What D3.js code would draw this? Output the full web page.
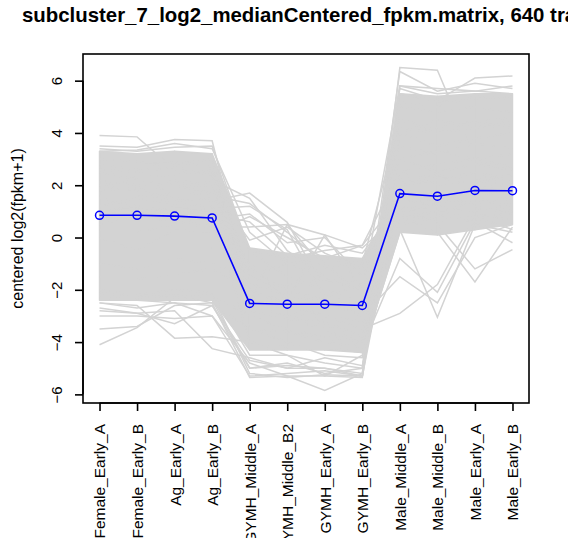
<!DOCTYPE html>
<html>
<head>
<meta charset="utf-8">
<script src="https://cdn.jsdelivr.net/npm/d3@7"></script>
<style>
  html, body { margin: 0; padding: 0; background: #fff; }
  svg { display: block; font-family: "Liberation Sans", Arial, sans-serif; }
</style>
</head>
<body>
<svg id="chart" width="568" height="538"></svg>
<script>
// Samples (x axis)
const samples = [
  "Female_Early_A", "Female_Early_B", "Ag_Early_A", "Ag_Early_B",
  "GYMH_Middle_A", "GYMH_Middle_B2", "GYMH_Early_A", "GYMH_Early_B",
  "Male_Middle_A", "Male_Middle_B", "Male_Early_A", "Male_Early_B"
];

// Cluster mean profile (blue)
const clusterMean = [0.85, 0.85, 0.82, 0.75, -2.52, -2.55, -2.55, -2.6, 1.68, 1.58, 1.8, 1.79];

// Dense band of transcript profiles (upper / lower edge per sample)
const bandUpper = [3.3, 3.2, 3.3, 3.2, -0.4, -0.6, -0.7, -0.8, 5.5, 5.4, 5.5, 5.5];
const bandLower = [-2.4, -2.4, -2.4, -2.4, -4.3, -4.3, -4.3, -4.4, 0.2, 0.1, 0.3, 0.5];

// Individual transcript profiles standing out of the band
const transcripts = [
  [3.9, 3.85, 2.6, 2.4, -1.2, -2.0, -2.4, -3.0, 3.0, 2.5, 2.8, 2.6],
  [3.5, 3.45, 3.75, 3.7, -2.0, -2.5, -3.0, -3.2, 4.0, 3.5, 3.8, 4.0],
  [3.4, 3.3, 3.45, 3.5, -0.5, -1.5, -2.0, -2.8, 2.0, 2.2, 2.5, 2.2],
  [3.3, 3.35, 3.6, 3.4, 0.2, -1.0, -1.6, -2.0, 1.5, 1.2, 1.8, 1.4],
  [2.0, 1.8, 1.5, 1.4, 1.7, 0.58, -2.0, -2.5, 1.0, 1.2, 1.0, 1.3],
  [2.5, 2.2, 2.0, 2.2, 1.5, -0.5, -1.5, -1.8, 0.8, 1.0, 1.2, 0.9],
  [1.5, 1.2, 1.0, 1.1, 1.2, 0.3, -2.3, -1.8, 2.5, 2.0, 2.2, 2.4],
  [0.5, 0.8, 0.6, 0.5, -2.4, 0.5, 0.1, -2.0, 1.2, 1.0, 0.8, 1.0],
  [1.0, 0.8, 1.2, 1.0, -1.0, -2.4, 0.1, -0.4, 0.9, 0.6, 0.8, 0.7],
  [0.0, -0.5, 0.3, 0.2, 0.8, 0.0, -0.8, -0.3, 1.5, 1.3, 1.6, 1.2],
  [0.8, 1.0, 0.5, 0.9, 0.6, -0.7, -0.3, -0.6, 1.2, 0.8, 1.5, 1.0],
  [2.2, 2.0, 1.8, 1.6, 1.3, 0.2, -1.0, -2.2, 1.5, 1.8, 1.6, 1.9],
  [1.0, 1.1, 0.9, 0.7, 0.9, -0.2, 0.0, -1.5, 2.2, 2.0, 2.5, 2.1],
  [0.3, 0.2, 0.5, 0.4, 0.4, 0.5, -1.2, -0.9, 1.8, 1.5, 1.9, 2.0],
  [1.6, 1.5, 1.7, 1.8, -0.1, 0.4, -0.6, -1.2, 2.2, 2.4, 2.1, 2.3],
  [-4.1, -3.45, -2.3, -2.2, -3.0, -3.5, -4.0, -4.2, 3.0, 3.3, 3.0, 3.2],
  [-3.5, -3.4, -2.6, -2.5, -3.5, -4.0, -4.5, -4.6, 4.5, 4.0, 4.2, 4.5],
  [-2.5, -2.6, -3.85, -3.8, -4.0, -4.5, -4.8, -5.0, 5.0, 4.8, 5.0, 4.8],
  [-2.8, -2.9, -2.8, -4.25, -4.6, -5.0, -5.0, -5.2, 5.5, 5.2, 5.3, 5.4],
  [-3.0, -3.0, -3.1, -3.0, -5.3, -5.2, -5.1, -5.3, 5.2, 5.0, 5.4, 5.3],
  [-2.7, -2.9, -3.3, -2.6, -5.0, -4.8, -5.2, -5.0, 6.5, 6.4, 3.0, 2.5],
  [-2.5, -2.7, -2.5, -3.0, -4.8, -5.3, -5.85, -5.2, 4.0, 4.5, 4.2, 4.3],
  [-2.1, -2.3, -2.2, -2.5, -5.35, -5.3, -5.3, -5.35, 3.5, 3.2, 3.6, 3.4],
  [-2.4, -2.2, -2.3, -2.2, -5.2, -5.35, -5.25, -5.3, 4.2, 4.0, 4.5, 4.1],
  [2.0, 1.8, 2.2, 2.0, -3.0, -3.5, -3.8, -4.0, 5.7, 5.25, 6.1, 6.18],
  [1.5, 1.6, 1.4, 1.5, -3.5, -3.6, -4.0, -3.9, 6.35, 5.6, 5.9, 5.7],
  [1.0, 1.2, 0.8, 1.1, -4.0, -4.2, -4.2, -4.4, 5.8, 5.7, 5.6, 5.8],
  [2.5, 2.3, 2.4, 2.6, -1.5, -2.0, -2.4, -2.7, 0.3, -3.05, 0.5, 0.2],
  [2.0, 2.2, 2.1, 1.9, -1.8, -2.2, -2.5, -3.0, -1.5, -2.5, 0.0, 0.5],
  [1.8, 1.9, 2.0, 1.7, -2.0, -2.6, -3.0, -3.5, -2.9, -1.8, 0.8, 0.3],
  [3.0, 2.9, 2.8, 3.0, -2.2, -2.8, -3.2, -3.8, 0.8, 0.2, -1.7, 0.4],
  [2.8, 2.6, 2.9, 2.7, -2.6, -3.0, -3.3, -4.0, 1.2, 0.5, -1.2, -0.46],
  [2.6, 2.5, 2.7, 2.5, -2.8, -3.1, -3.5, -4.2, -0.8, -2.1, 0.6, -0.2],
  [1.2, 1.5, 1.3, 1.2, -0.5, -0.8, -0.5, -0.3, 2.5, 2.8, 3.0, 2.7],
  [-1.0, -1.2, -0.8, -1.0, -1.5, -1.0, -0.8, -1.0, 4.5, 4.2, 4.4, 4.6],
  [-1.5, -1.6, -1.4, -1.2, -2.0, -1.8, -1.6, -2.0, 5.8, 5.5, 5.6, 5.5],
  [-2.2, -2.3, -2.2, -2.4, -5.0, -4.9, -5.0, -5.3, 2.0, 2.3, 2.2, 2.0],
  [-2.3, -2.4, -2.5, -2.6, -4.7, -5.0, -4.6, -4.9, 1.0, 1.5, 1.3, 1.6],
  [-2.0, -2.2, -2.0, -2.1, -4.5, -4.5, -5.3, -4.5, 0.5, 0.8, 0.6, 1.0]
];

const yTicks = [-6, -4, -2, 0, 2, 4, 6];
const titleText = "subcluster_7_log2_medianCentered_fpkm.matrix, 640 transcripts";
const yTitle = "centered log2(fpkm+1)";

const svg = d3.select("#chart");
const plot = { left: 83, top: 54, right: 529, bottom: 403 };

const x = d3.scaleLinear().domain([0.56, 12.44]).range([plot.left, plot.right]);
const y = d3.scaleLinear().domain([-6.33, 7.02]).range([plot.bottom, plot.top]);

const grey = "#d3d3d3";

// Dense band, drawn one segment at a time. Where the profiles jump up
// sharply (low in one group, high in the next) the profiles cross, so the
// top of the band starts from the low side.
const polyLine = d3.line().x(d => x(d[0])).y(d => y(d[1]));
const bandPolys = [];
for (let i = 0; i < samples.length - 1; i++) {
  const a = i + 1, b = i + 2;
  if (bandUpper[i + 1] - bandUpper[i] > 3) {
    bandPolys.push([[a, bandLower[i]], [b, bandUpper[i + 1]], [b, bandLower[i + 1]]]);
    bandPolys.push([[a, bandUpper[i]], [b, clusterMean[i + 1]], [b, bandLower[i + 1]], [a, bandLower[i]]]);
  } else {
    bandPolys.push([[a, bandUpper[i]], [b, bandUpper[i + 1]], [b, bandLower[i + 1]], [a, bandLower[i]]]);
  }
}
svg.append("g").selectAll("path")
  .data(bandPolys)
  .join("path")
  .attr("d", d => polyLine(d) + "Z")
  .attr("fill", grey)
  .attr("stroke", grey)
  .attr("stroke-width", 1.5)
  .attr("stroke-linejoin", "round");

const line = d3.line().x((d, i) => x(i + 1)).y(d => y(d));

svg.append("g").selectAll("path")
  .data(transcripts)
  .join("path")
  .attr("d", line)
  .attr("fill", "none")
  .attr("stroke", grey)
  .attr("stroke-width", 1.5);

// Mean profile
svg.append("path")
  .datum(clusterMean)
  .attr("d", line)
  .attr("fill", "none")
  .attr("stroke", "#0000ff")
  .attr("stroke-width", 1.6);
svg.append("g").selectAll("circle")
  .data(clusterMean)
  .join("circle")
  .attr("cx", (d, i) => x(i + 1))
  .attr("cy", d => y(d))
  .attr("r", 4)
  .attr("fill", "none")
  .attr("stroke", "#0000ff")
  .attr("stroke-width", 1.5);

// Frame
svg.append("rect")
  .attr("x", plot.left).attr("y", plot.top)
  .attr("width", plot.right - plot.left).attr("height", plot.bottom - plot.top)
  .attr("fill", "none").attr("stroke", "#000").attr("stroke-width", 1.6);

// Y axis
const yAxis = svg.append("g").attr("transform", `translate(${plot.left},0)`)
  .call(d3.axisLeft(y).tickValues(yTicks).tickSize(8).tickFormat(d => d < 0 ? "\u2212" + Math.abs(d) : d));
yAxis.select(".domain").attr("stroke-width", 1.6).attr("d", `M0,${y(6)}V${y(-6)}`);
yAxis.selectAll(".tick line").attr("stroke-width", 1.6);
yAxis.selectAll(".tick text")
  .attr("font-size", 15)
  .attr("fill", "#000")
  .attr("x", 0)
  .attr("text-anchor", "middle")
  .attr("transform", "translate(-26,0) rotate(-90)")
  .attr("dy", "0.35em");

// X axis
const xAxis = svg.append("g").attr("transform", `translate(0,${plot.bottom})`)
  .call(d3.axisBottom(x).tickValues(d3.range(1, 13)).tickSize(8).tickFormat(d => samples[d - 1]));
xAxis.select(".domain").attr("d", `M${x(1)},0H${x(12)}`).attr("stroke-width", 1.6);
xAxis.selectAll(".tick line").attr("stroke-width", 1.6);
xAxis.selectAll(".tick text")
  .attr("font-size", 15.5)
  .attr("fill", "#000")
  .attr("y", 0).attr("x", 0)
  .attr("text-anchor", "end")
  .attr("transform", "translate(0,21) rotate(-90)")
  .attr("dy", "0.35em");

// Titles
svg.append("text")
  .attr("x", 22).attr("y", 22)
  .attr("font-size", 20.4).attr("font-weight", "bold")
  .text(titleText);

svg.append("text")
  .attr("transform", `translate(17,${(plot.top + plot.bottom) / 2}) rotate(-90)`)
  .attr("text-anchor", "middle")
  .attr("dy", "0.35em")
  .attr("font-size", 16)
  .text(yTitle);
</script>
</body>
</html>
